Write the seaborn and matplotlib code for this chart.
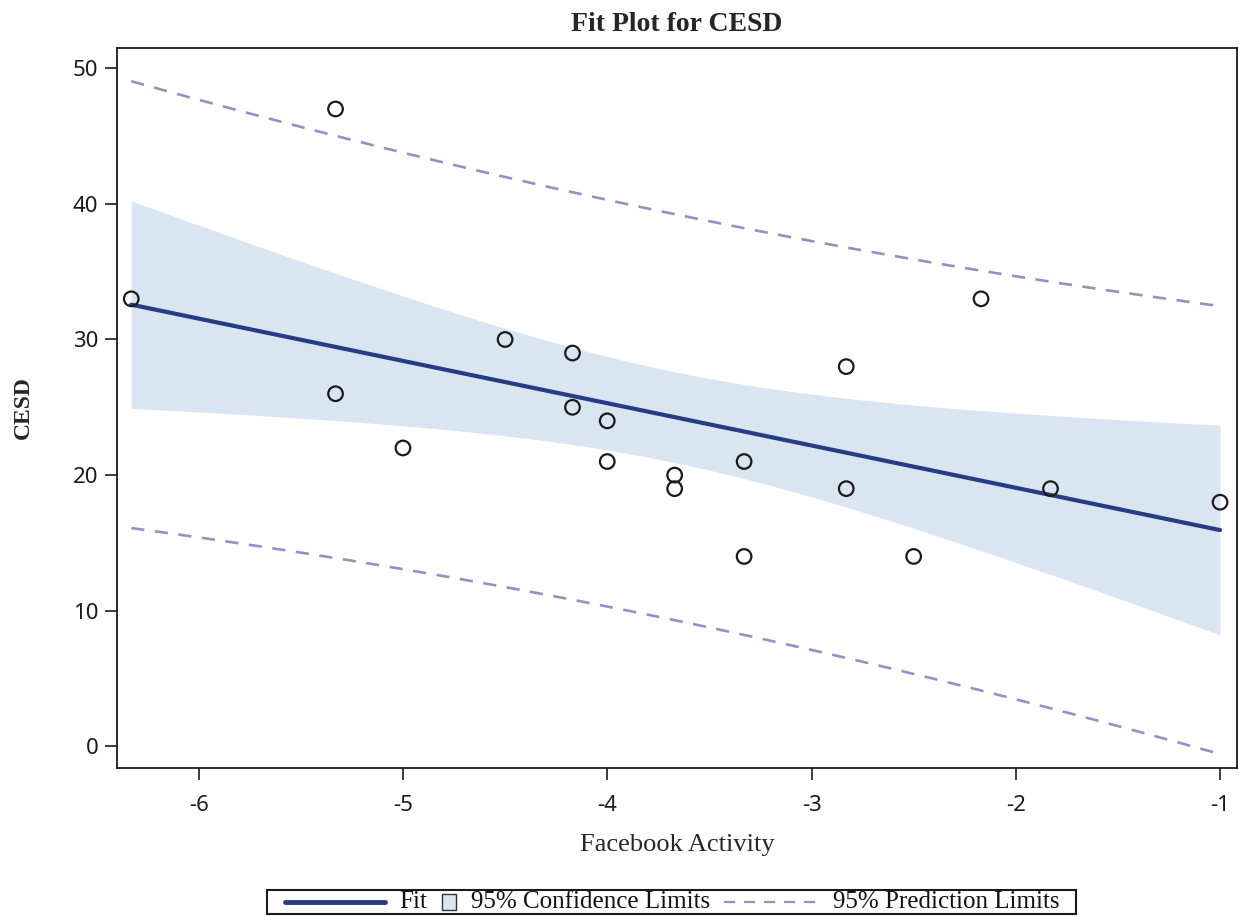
import numpy as np
import pandas as pd
import matplotlib
matplotlib.use('Agg')
import matplotlib.pyplot as plt
import seaborn as sns
from matplotlib.lines import Line2D
from matplotlib.patches import Rectangle
from matplotlib.offsetbox import AnchoredOffsetbox, HPacker, DrawingArea, TextArea

# Данные
facebook_activity = [-6.33, -5.33, -5.33, -5.0, -4.5, -4.17, -4.17, -4.0, -4.0, -3.67,
                     -3.67, -3.33, -3.33, -2.83, -2.83, -2.5, -2.17, -1.83, -1.0]
cesd = [33, 47, 26, 22, 30, 29, 25, 24, 21, 20,
        19, 21, 14, 28, 19, 14, 33, 19, 18]
x_ticks = [-6, -5, -4, -3, -2, -1]
y_ticks = [0, 10, 20, 30, 40, 50]

df = pd.DataFrame({'x': facebook_activity, 'y': cesd})

# МНК-подгонка и 95% границы (t для 17 степеней свободы)
t_crit = 2.1098
n = len(df)
b1, b0 = np.polyfit(df['x'], df['y'], 1)
resid = df['y'] - (b0 + b1 * df['x'])
s = np.sqrt((resid ** 2).sum() / (n - 2))
x_mean = df['x'].mean()
sxx = ((df['x'] - x_mean) ** 2).sum()
grid = np.linspace(df['x'].min(), df['x'].max(), 200)
fit = b0 + b1 * grid
se_mean = s * np.sqrt(1 / n + (grid - x_mean) ** 2 / sxx)
se_pred = s * np.sqrt(1 + 1 / n + (grid - x_mean) ** 2 / sxx)
band = pd.DataFrame({'x': grid, 'fit': fit,
                     'cl_lo': fit - t_crit * se_mean, 'cl_hi': fit + t_crit * se_mean,
                     'pl_lo': fit - t_crit * se_pred, 'pl_hi': fit + t_crit * se_pred})

sns.set_style('ticks')
plt.rcParams['font.family'] = ['Liberation Serif', 'DejaVu Serif']
plt.rcParams['axes.unicode_minus'] = False

navy = '#283c84'
fill_col = '#dae5f2'
dash_col = '#9590c4'
dark = '#1a1a1a'
dash_style = (0, (5, 4))

fig = plt.figure(figsize=(12.39, 9.17), dpi=100)
ax = fig.add_axes([0.0944, 0.1625, 0.904, 0.7852])

ax.fill_between(band['x'], band['cl_lo'], band['cl_hi'], color=fill_col, linewidth=0, zorder=1)
sns.lineplot(data=band, x='x', y='pl_lo', ax=ax, color=dash_col, linewidth=1.9,
             linestyle=dash_style, zorder=2)
sns.lineplot(data=band, x='x', y='pl_hi', ax=ax, color=dash_col, linewidth=1.9,
             linestyle=dash_style, zorder=2)
sns.lineplot(data=band, x='x', y='fit', ax=ax, color=navy, linewidth=3, zorder=3)
sns.scatterplot(data=df, x='x', y='y', ax=ax, marker='o', s=110, facecolor='none',
                edgecolor=dark, linewidth=1.6, zorder=4)

ax.set_xlim(-6.40, -0.917)
ax.set_ylim(-1.6, 51.5)
ax.set_xticks(x_ticks)
ax.set_yticks(y_ticks)
ax.tick_params(direction='out', length=8.5, width=1.2, labelsize=16, colors=dark)
ax.tick_params(axis='x', pad=11)
ax.tick_params(axis='y', pad=5)
for lab in ax.get_xticklabels() + ax.get_yticklabels():
    lab.set_family(['Noto Sans', 'DejaVu Sans'])
for sp in ax.spines.values():
    sp.set_visible(True)
    sp.set_linewidth(1.3)
    sp.set_color(dark)

ax.set_xlabel('Facebook Activity', fontsize=19, labelpad=13)
ax.set_ylabel('CESD', fontsize=17, fontweight='bold', labelpad=28)
ax.set_title('Fit Plot for CESD', fontsize=20, fontweight='bold', pad=12)

# Легенда внизу, собранная вручную
txt = dict(fontsize=18, color='#111111')
da_fit = DrawingArea(72, 14)
da_fit.add_artist(Line2D([0, 72], [7, 7], color=navy, linewidth=3.5))
da_cl = DrawingArea(12, 14)
da_cl.add_artist(Rectangle((1, 1.5), 10, 11, facecolor=fill_col, edgecolor='#333333', linewidth=1))
da_pl = DrawingArea(68, 14)
da_pl.add_artist(Line2D([0, 68], [7, 7], color=dash_col, linewidth=1.6, linestyle=dash_style))
row = HPacker(children=[DrawingArea(2, 14), da_fit, TextArea('Fit', textprops=txt),
                        da_cl, TextArea('95% Confidence Limits', textprops=txt),
                        da_pl, TextArea('95% Prediction Limits', textprops=txt),
                        DrawingArea(1, 14)],
              sep=10, align='center', pad=0)
legend_box = AnchoredOffsetbox(loc='lower center', child=row, pad=0.08, borderpad=0,
                               frameon=True, bbox_to_anchor=(0.542, 0.003),
                               bbox_transform=fig.transFigure)
legend_box.patch.set_boxstyle('square', pad=0)
legend_box.patch.set_edgecolor(dark)
legend_box.patch.set_linewidth(1.5)
fig.add_artist(legend_box)

fig.savefig('out.png', dpi=100)
plt.close()
